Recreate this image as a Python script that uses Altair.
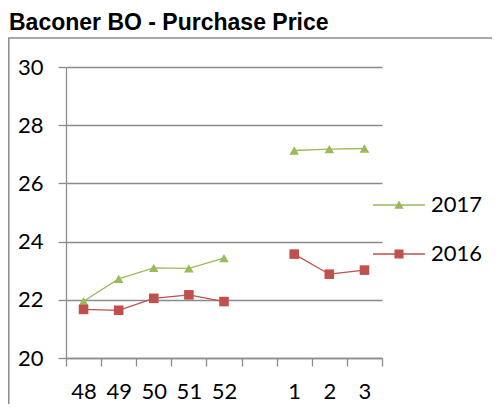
import altair as alt
import pandas as pd

title_text = "Baconer BO - Purchase Price"
weeks = ["48", "49", "50", "51", "52", " ", "1", "2", "3"]
segments = ["a", "a", "a", "a", "a", "-", "b", "b", "b"]
series_names = ["2017", "2016"]
v2017 = [21.95, 22.72, 23.10, 23.08, 23.43, None, 27.13, 27.18, 27.20]
v2016 = [21.67, 21.64, 22.05, 22.17, 21.94, None, 23.57, 22.88, 23.02]
colors = ["#9BBB59", "#C0504D"]

rows = []
for name, vals in zip(series_names, [v2017, v2016]):
    for w, s, v in zip(weeks, segments, vals):
        if v is not None:
            rows.append({"week": w, "series": name, "seg": s, "price": v})
df = pd.DataFrame(rows)

# legend symbols: a line sample with the marker on it (unit coords)
legend_paths = [
    "M-1,-0.025H1V0.025H-1Z M0,-0.17L0.18,0.14L-0.18,0.14Z",
    "M-1,-0.025H1V0.025H-1Z M-0.175,-0.175H0.175V0.175H-0.175Z",
]

x_enc = alt.X("week:N", sort=weeks,
              scale=alt.Scale(domain=weeks, paddingInner=0, paddingOuter=0),
              axis=alt.Axis(title=None, labelAngle=0, tickBand="extent", grid=False,
                            tickSize=8, tickColor="#8c8c8c", tickWidth=1.3,
                            domainColor="#8c8c8c", domainWidth=1.3,
                            labelFont="Lato", labelFontSize=22, labelColor="#000",
                            labelPadding=15))
y_enc = alt.Y("price:Q", scale=alt.Scale(domain=[20, 30], nice=False, zero=False),
              axis=alt.Axis(title=None, values=[20, 22, 24, 26, 28, 30], grid=True,
                            gridColor="#8c8c8c", gridWidth=1.3,
                            tickSize=8, tickColor="#8c8c8c", tickWidth=1.3,
                            domainColor="#8c8c8c", domainWidth=1.3,
                            labelFont="Lato", labelFontSize=22, labelColor="#000",
                            labelPadding=15))
color_scale = alt.Scale(domain=series_names, range=colors)

leg = alt.Legend(title=None, orient="none", legendX=307, legendY=112,
                 symbolSize=2704, symbolStrokeWidth=0,
                 labelFont="Lato", labelFontSize=22, labelColor="#000",
                 labelOffset=6, rowPadding=12, padding=0)

base = alt.Chart(df)

lines = base.mark_line(strokeWidth=1.3).encode(
    x=x_enc, y=y_enc,
    color=alt.Color("series:N", scale=color_scale, legend=leg),
    detail="seg:N",
)

points = base.mark_point(filled=True, opacity=1, size=92).encode(
    x=alt.X("week:N", sort=weeks),
    y="price:Q",
    color=alt.Color("series:N", scale=color_scale, legend=leg),
    shape=alt.condition(alt.datum.series == "2017", alt.value("triangle-up"), alt.value("square")),
)

legend_layer = base.transform_filter("false").mark_point(filled=True, opacity=1).encode(
    x=alt.X("week:N", sort=weeks),
    y="price:Q",
    color=alt.Color("series:N", scale=color_scale, legend=leg),
    shape=alt.Shape("series:N", scale=alt.Scale(domain=series_names, range=legend_paths),
                    legend=leg),
)

frame = alt.Chart(alt.Data(values=[{"k": 1}])).mark_rect(
    fill="transparent", stroke="#8c8c8c", strokeWidth=1.5
).encode(x=alt.value(-57.2), x2=alt.value(460), y=alt.value(-29), y2=alt.value(420))

title = alt.Chart(alt.Data(values=[{"t": title_text}])).mark_text(
    align="left", baseline="alphabetic", font="Liberation Sans", fontWeight="bold",
    fontSize=23, color="#000"
).encode(x=alt.value(-57), y=alt.value(-37.5), text="t:N")

chart = alt.layer(frame, title, lines, points, legend_layer).properties(
    width=316, height=291,
    autosize=alt.AutoSizeParams(type="none"),
    padding={"left": 58, "top": 59, "right": 110, "bottom": 46},
    background="white",
).configure_view(stroke=None)

chart.save("out.html", embed_options={"renderer": "svg", "actions": False})
